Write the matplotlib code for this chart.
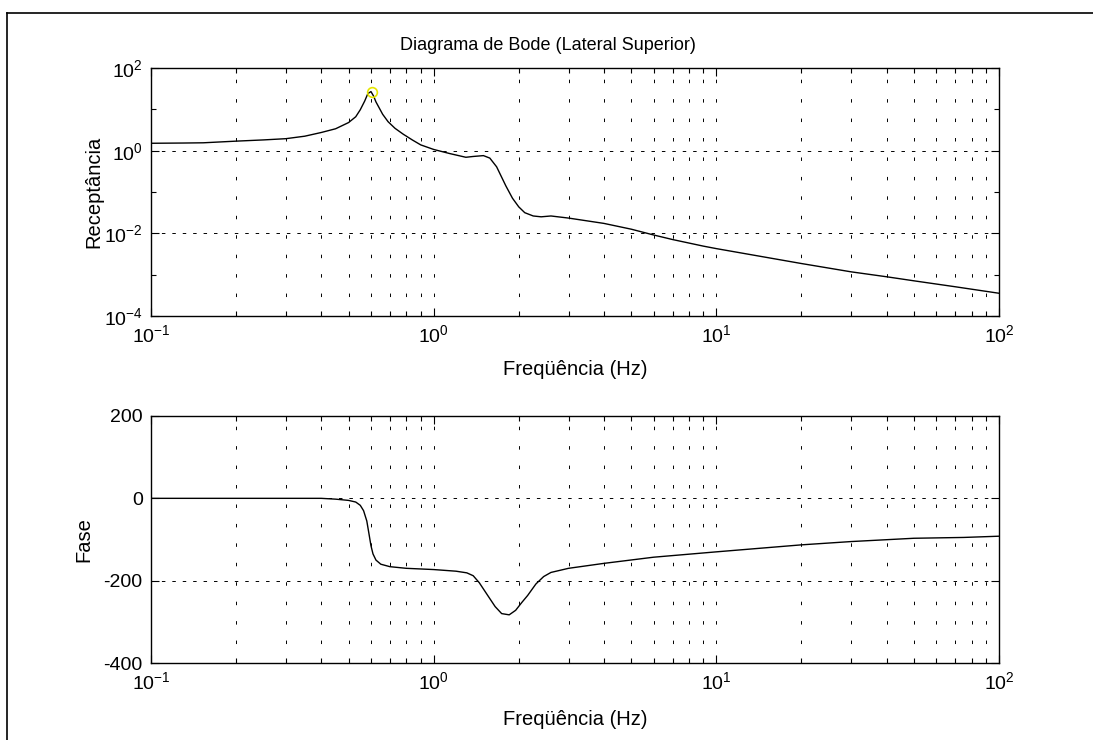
import math
import matplotlib
matplotlib.use("Agg")
import matplotlib.pyplot as plt
from matplotlib.lines import Line2D
from matplotlib.ticker import FixedLocator, FuncFormatter, NullFormatter

plt.rcParams['font.family'] = ['Liberation Sans', 'DejaVu Sans']
plt.rcParams['mathtext.fontset'] = 'custom'
plt.rcParams['mathtext.rm'] = 'Liberation Sans'
plt.rcParams['lines.scale_dashes'] = False
plt.rcParams['axes.unicode_minus'] = False

# magnitude
mag_freq = [0.1, 0.13, 0.153, 0.2, 0.25, 0.3, 0.35, 0.4, 0.45, 0.5, 0.53, 0.55,
            0.57, 0.585, 0.6, 0.613, 0.625, 0.64, 0.66, 0.69, 0.73, 0.78, 0.84, 0.9,
            1.0, 1.14, 1.3, 1.38, 1.5, 1.58, 1.67, 1.8, 1.9, 2.0, 2.1, 2.25, 2.4, 2.6,
            3, 4, 5, 6, 7, 9, 10, 20, 30, 40, 50, 70, 100]
mag = [1.51, 1.53, 1.55, 1.70, 1.82, 1.95, 2.24, 2.75, 3.39, 4.79, 6.61, 9.77,
       15.8, 24.0, 26.9, 20.9, 15.1, 11.2, 7.59, 5.01, 3.47, 2.51, 1.82, 1.38,
       1.07, 0.851, 0.692, 0.724, 0.759, 0.661, 0.407, 0.141, 0.0708, 0.0437, 0.0316,
       0.0263, 0.0251, 0.0263, 0.0234, 0.0174, 0.0126, 0.00912, 0.00708, 0.0049,
       0.00427, 0.00186, 0.00117, 0.00089, 0.00071, 0.00051, 0.000355]

# phase
ph_freq = [0.1, 0.4, 0.45, 0.5, 0.53, 0.55, 0.565, 0.58, 0.59, 0.6, 0.61, 0.625,
           0.65, 0.7, 0.8, 1.0, 1.2, 1.31, 1.38, 1.45, 1.55, 1.65, 1.74, 1.85, 1.95,
           2.05, 2.15, 2.3, 2.45, 2.6, 3, 4, 6, 10, 20, 30, 50, 75, 100]
phase = [0, 0, -2, -5, -9, -17, -30, -55, -85, -115, -135, -150,
         -160, -166, -170, -173, -177, -181, -188, -205, -235, -263, -280, -283, -272,
         -253, -236, -208, -190, -180, -170, -158, -143, -130, -113, -105, -97, -95, -92]

peak_f = 0.603
peak_mag = 25.9

xticks = [0.1, 1, 10, 100]
xminor = [m * d for d in [0.1, 1, 10] for m in range(2, 10)]


def pow_fmt(v, pos):
    return r'$\mathregular{10^{%d}}$' % round(math.log10(v))


fig = plt.figure(figsize=(10.93, 7.40), dpi=100)

ax1 = fig.add_axes([151 / 1093, 1 - 316 / 740, 848 / 1093, 248 / 740])
ax2 = fig.add_axes([151 / 1093, 1 - 663 / 740, 848 / 1093, 247 / 740])

ax1.loglog(mag_freq, mag, color='k', lw=1.0)
ax1.plot([peak_f], [peak_mag], 'o', mfc='none', mec='#e6e600', ms=7, mew=1.2)
ax1.set_ylim(1e-4, 1e2)
ax1.yaxis.set_major_locator(FixedLocator([1e-4, 1e-2, 1, 1e2]))
ax1.yaxis.set_minor_locator(FixedLocator([1e-3, 1e-1, 1e1]))
ax1.yaxis.set_major_formatter(FuncFormatter(pow_fmt))
ax1.yaxis.set_minor_formatter(NullFormatter())

ax2.semilogx(ph_freq, phase, color='k', lw=1.0)
ax2.set_ylim(-400, 200)
ax2.set_yticks([-400, -200, 0, 200])

for ax in (ax1, ax2):
    ax.set_xlim(0.1, 100)
    ax.xaxis.set_major_locator(FixedLocator(xticks))
    ax.xaxis.set_minor_locator(FixedLocator(xminor))
    ax.xaxis.set_major_formatter(FuncFormatter(pow_fmt))
    ax.xaxis.set_minor_formatter(NullFormatter())
    ax.tick_params(which='both', direction='in', top=True, right=True,
                   labelsize=14, width=0.8, colors='k')
    ax.tick_params(which='major', length=6, pad=6)
    ax.tick_params(which='minor', length=3.5)
    ax.grid(True, which='both', axis='x', color='k', lw=0.7, ls=(0, (2.5, 11.5)))
    ax.grid(True, which='major', axis='y', color='k', lw=0.7, ls=(0, (2.5, 5)))
    for s in ax.spines.values():
        s.set_linewidth(1.0)
    ax.set_xlabel('Freqüência (Hz)', fontsize=14.5)

ax1.set_ylabel('Receptância', fontsize=14.5)
ax1.yaxis.set_label_coords(-0.0566, 0.5)
ax2.set_ylabel('Fase', fontsize=14.5)
ax2.yaxis.set_label_coords(-0.068, 0.5)
ax1.xaxis.set_label_coords(0.5, -0.177)
ax2.xaxis.set_label_coords(0.5, -0.19)

fig.text(548 / 1093, 1 - 45 / 740, 'Diagrama de Bode (Lateral Superior)',
         ha='center', va='center', fontsize=13)

# outer frame (top and left edges)
fig.add_artist(Line2D([7 / 1093, 1], [1 - 12.5 / 740, 1 - 12.5 / 740],
                      transform=fig.transFigure, color='k', lw=1.2))
fig.add_artist(Line2D([7 / 1093, 7 / 1093], [0, 1 - 12.5 / 740],
                      transform=fig.transFigure, color='k', lw=1.2))

fig.savefig('out.png', dpi=100)
